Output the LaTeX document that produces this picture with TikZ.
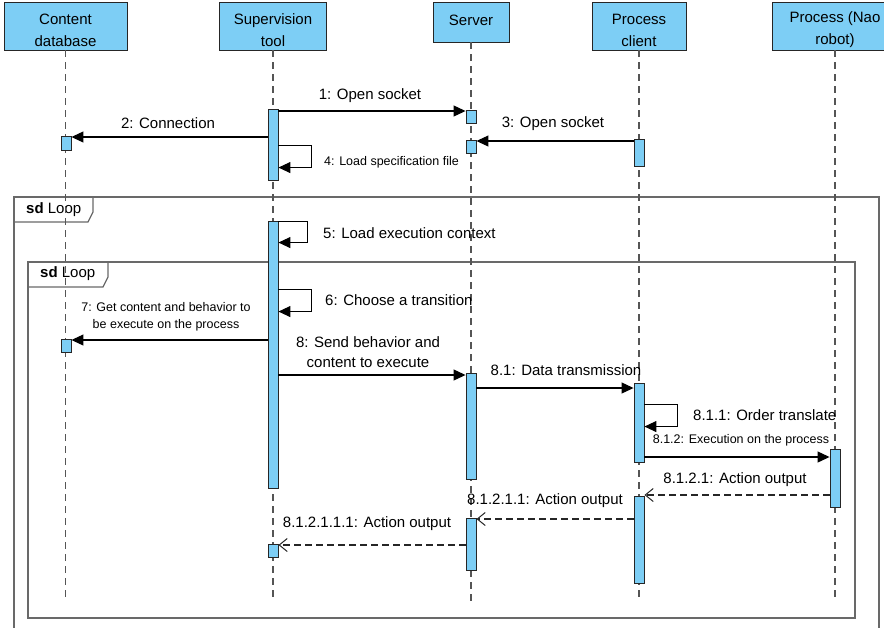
\documentclass[tikz,border=0pt]{standalone}
\usepackage{fontspec}
\setmainfont{Liberation Sans}
\usetikzlibrary{arrows.meta}
\definecolor{actblue}{RGB}{125,206,245}
\definecolor{framegray}{RGB}{105,105,105}
\definecolor{lifegray}{RGB}{85,85,85}
\begin{document}
\begin{tikzpicture}[x=1pt,y=-1pt,
  head/.style={draw=black!85, line width=0.9pt, fill=actblue, inner sep=0pt},
  htext/.style={inner sep=0pt, align=center, font=\fontsize{15}{22}\selectfont},
  act/.style={draw=black!85, line width=0.9pt, fill=actblue, minimum width=10pt, inner sep=0pt},
  lifeline/.style={draw=lifegray, line width=1.2pt, dash pattern=on 7pt off 5pt},
  msg/.style={draw=black, line width=1.1pt, -{Triangle[length=12pt,width=11pt]}},
  ret/.style={draw=black!85, line width=1.1pt, dash pattern=on 7pt off 4pt, -{Straight Barb[length=8pt,width=13pt,line width=1pt]}},
  lbl/.style={inner sep=0pt, align=center, font=\fontsize{15}{20}\selectfont},
  slbl/.style={inner sep=0pt, align=center, font=\fontsize{12.5}{17}\selectfont},
  framebox/.style={draw=framegray, line width=1.3pt},
]
\useasboundingbox (0,0) rectangle (884,627);
\clip (0,0) rectangle (884,627);

% headers
\node[head, minimum width=123pt, minimum height=48pt] (db) at (65.5,26) {};
\node[htext] (dbT) at (65.5,30) {Content\\database};
\node[head, minimum width=107pt, minimum height=48pt] (sup) at (273,26) {};
\node[htext] (supT) at (273,30) {Supervision\\tool};
\node[head, minimum width=76pt, minimum height=40pt] (srv) at (471,22) {};
\node[htext] (srvT) at (471,20) {Server};
\node[head, minimum width=94pt, minimum height=48pt] (pc) at (639,26) {};
\node[htext] (pcT) at (639,30) {Process\\client};
\node[head, minimum width=126pt, minimum height=48pt] (nao) at (835,26) {};
\node[htext] (naoT) at (835,30) {Process (Nao\\robot)};

% frames
\draw[framebox] (14,640) -- (14,197) -- (879,197) -- (879,640);
\draw[framebox] (14,222) -- (88,222) -- (93,212) -- (93,197);
\node[lbl, anchor=west] (outerT) at (26,210) {\textbf{sd} Loop};
\draw[framebox] (28,262) rectangle (855,618);
\draw[framebox] (28,287) -- (103,287) -- (108,277) -- (108,262);
\node[lbl, anchor=west] (innerT) at (40,274) {\textbf{sd} Loop};

% lifelines
\coordinate (lifeEnd) at (0,602);
\foreach \n in {db,sup,srv,pc,nao}
  \draw[lifeline] (\n.south) -- (\n.south |- lifeEnd);

% activations
\node[act, minimum height=71pt] (supA) at (273,144.5) {};
\node[act, minimum height=13pt] (srvA) at (471,116.5) {};
\node[act, minimum height=13pt] (srvB) at (471,146.5) {};
\node[act, minimum height=14pt] (dbA) at (66,143) {};
\node[act, minimum height=27pt] (pcA) at (639,152.5) {};
\node[act, minimum height=267pt] (supB) at (273,354.5) {};
\node[act, minimum height=13pt] (dbB) at (66,345.5) {};
\node[act, minimum height=106pt] (srvC) at (471,426) {};
\node[act, minimum height=79pt] (pcB) at (639,422.5) {};
\node[act, minimum height=58pt] (naoA) at (835,478) {};
\node[act, minimum height=87pt] (pcC) at (639,539.5) {};
\node[act, minimum height=52pt] (srvD) at (471,544) {};
\node[act, minimum height=13pt] (supC) at (273,550.5) {};

% message rows
\coordinate (y1) at (0,111);
\coordinate (y2) at (0,137);
\coordinate (y3) at (0,141);
\coordinate (y7) at (0,340);
\coordinate (y8) at (0,375);
\coordinate (y81) at (0,388);
\coordinate (y812) at (0,457);
\coordinate (y8121) at (0,495);
\coordinate (y81211) at (0,519);
\coordinate (y812111) at (0,545);

% 1
\draw[msg] (supA.east |- y1) -- (srvA.west |- y1);
\node[lbl] (l1) at (370,96) {1: Open socket};
% 2
\draw[msg] (supA.west |- y2) -- (dbA.east |- y2);
\node[lbl] (l2) at (168,123) {2: Connection};
% 3
\draw[msg] (pcA.west |- y3) -- (srvB.east |- y3);
\node[lbl] (l3) at (553,124) {3: Open socket};
% 4
\draw[msg] ([yshift=-37pt]supA.north east) -- ++(33,0) |- ([yshift=-59pt]supA.north east);
\node[slbl, anchor=west] (l4) at (324,162) {4: Load specification file};
% 5
\draw[msg] ([yshift=-1pt]supB.north east) -- ++(29,0) |- ([yshift=-22pt]supB.north east);
\node[lbl, anchor=west] (l5) at (323,233) {5: Load execution context};
% 6
\draw[msg] ([yshift=-69pt]supB.north east) -- ++(33,0) |- ([yshift=-91pt]supB.north east);
\node[lbl, anchor=west] (l6) at (325,300) {6: Choose a transition};
% 7
\draw[msg] (supB.west |- y7) -- (dbB.east |- y7);
\node[slbl] (l7) at (166,317) {7: Get content and behavior to\\be execute on the process};
% 8
\draw[msg] (supB.east |- y8) -- (srvC.west |- y8);
\node[lbl] (l8) at (368,352) {8: Send behavior and\\content to execute};
% 8.1
\draw[msg] (srvC.east |- y81) -- (pcB.west |- y81);
\node[lbl] (l81) at (566,370) {8.1: Data transmission};
% 8.1.1
\draw[msg] ([yshift=-22pt]pcB.north east) -- ++(33,0) |- ([yshift=-44pt]pcB.north east);
\node[lbl, anchor=west] (l811) at (693,415) {8.1.1: Order translate};
% 8.1.2
\draw[msg] (pcB.east |- y812) -- (naoA.west |- y812);
\node[slbl] (l812) at (741,440) {8.1.2: Execution on the process};
% 8.1.2.1
\draw[ret] (naoA.west |- y8121) -- (pcC.east |- y8121);
\node[lbl] (l8121) at (735,480) {8.1.2.1: Action output};
% 8.1.2.1.1
\draw[ret] (pcC.west |- y81211) -- (srvD.east |- y81211);
\node[lbl] (l81211) at (545,501) {8.1.2.1.1: Action output};
% 8.1.2.1.1.1
\draw[ret] (srvD.west |- y812111) -- (supC.east |- y812111);
\node[lbl] (l812111) at (367,524) {8.1.2.1.1.1: Action output};
\end{tikzpicture}
\end{document}
